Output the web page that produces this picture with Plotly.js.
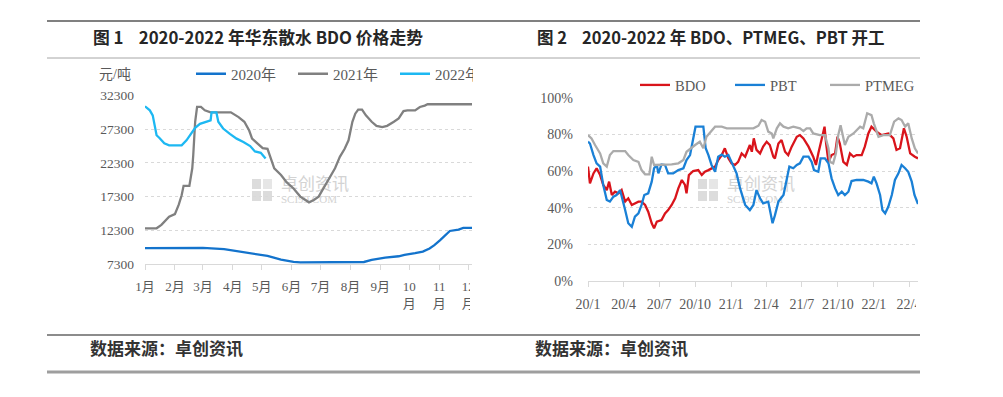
<!DOCTYPE html>
<html><head><meta charset="utf-8">
<script src="https://cdn.plot.ly/plotly-3.0.1.min.js"></script>
<style>
html,body{margin:0;padding:0;background:#fff;}
#wrap{position:relative;width:1003px;height:397px;overflow:hidden;}
#chart{width:1003px;height:397px;}
.mask{position:absolute;background:#fff;}
</style></head><body>
<div id="wrap">
<div id="chart"></div>
<div class="mask" style="left:473px;top:62px;width:45px;height:268px;"></div>
<div class="mask" style="left:470px;top:272px;width:48px;height:58px;"></div>
<div class="mask" style="left:919px;top:62px;width:84px;height:268px;"></div>
<div class="mask" style="left:916px;top:288px;width:87px;height:40px;"></div>
</div>
<script>
// ---------- Figure 1 data (month-day of each year, 元/吨) ----------
const refYear = '2020-';
const monthTicks = ['01-01','02-01','03-01','04-01','05-01','06-01','07-01','08-01','09-01','10-01','11-01','12-01'];
const monthLabels = ['1月','2月','3月','4月','5月','6月','7月','8月','9月','10<br>月','11<br>月','12<br>月'];

const d2020 = ['01-01','02-01','03-01','03-23','04-09','04-23','05-07','05-21','06-03','06-10','08-15','08-23','09-06','09-20','09-26','10-07','10-15','10-22','10-27','11-02','11-07','11-12','11-21','11-26','12-06'];
const v2020 = [9650,9700,9700,9500,9150,8750,8500,7950,7600,7550,7600,7900,8250,8450,8650,8900,9150,9600,10100,10850,11600,12200,12400,12650,12650];

const d2021 = ['01-01','01-13','01-18','01-21','01-26','02-01','02-05','02-08','02-10','02-16','02-19','02-20','02-22','02-24','02-28','03-03','03-09','03-30','04-04','04-07','04-13','04-18','04-21','04-26','05-02','05-07','05-10','05-14','05-21','05-27','06-03','06-10','06-19','06-24','06-29','07-04','07-09','07-16','07-21','07-26','07-30','08-03','08-06','08-09','08-13','08-17','08-23','08-28','09-03','09-08','09-15','09-20','09-25','09-29','10-07','10-12','10-17','10-20','12-06'];
const v2021 = [12600,12600,13100,13600,14300,14700,16100,17500,18900,18900,21500,23400,28400,30600,30600,30100,29800,29800,29350,29100,28400,27100,25900,25200,24500,24400,23200,21500,20500,19400,18500,17300,16450,16800,17300,18500,19750,21500,23200,24400,25650,28400,29600,30200,30200,29350,28400,27800,27600,27800,28400,28900,30000,30100,30100,30600,30800,31000,31000];

const d2022 = ['01-01','01-06','01-09','01-13','01-16','01-21','01-26','02-08','02-13','02-17','02-22','02-27','03-05','03-09','03-10','03-15','03-17','03-22','03-29','04-05','04-12','04-19','04-24','04-30','05-05'];
const v2022 = [30700,30100,29350,26400,26000,25200,24900,24900,25650,26400,27500,28100,28400,28600,29800,29800,28400,27400,26600,25900,25400,24800,24000,23800,22950];

// ---------- Figure 2 data (operating rate, %) ----------
const dBDO = ['2020-01-01','2020-01-06','2020-01-15','2020-01-23','2020-02-01','2020-02-09','2020-02-18','2020-02-24','2020-03-02','2020-03-10','2020-03-19','2020-03-27','2020-04-05','2020-04-13','2020-04-22','2020-04-30','2020-05-09','2020-05-17','2020-05-26','2020-06-03','2020-06-12','2020-06-18','2020-06-25','2020-07-07','2020-07-16','2020-07-24','2020-08-02','2020-08-11','2020-08-19','2020-08-28','2020-09-05','2020-09-09','2020-09-15','2020-09-26','2020-10-09','2020-10-18','2020-10-26','2020-11-04','2020-11-12','2020-11-21','2020-11-29','2020-12-08','2020-12-16','2020-12-25','2021-01-02','2021-01-11','2021-01-19','2021-01-28','2021-02-06','2021-02-14','2021-02-18','2021-02-23','2021-02-28','2021-03-07','2021-03-16','2021-03-24','2021-04-02','2021-04-10','2021-04-19','2021-04-23','2021-05-02','2021-05-10','2021-05-19','2021-05-27','2021-06-05','2021-06-18','2021-06-26','2021-07-05','2021-07-18','2021-07-30','2021-08-06','2021-08-12','2021-08-21','2021-08-28','2021-09-01','2021-09-07','2021-09-15','2021-09-24','2021-09-30','2021-10-06','2021-10-15','2021-10-24','2021-11-01','2021-11-10','2021-11-18','2021-12-01','2021-12-09','2021-12-18','2021-12-26','2022-01-08','2022-01-21','2022-02-07','2022-02-20','2022-02-28','2022-03-09','2022-03-19','2022-03-26','2022-04-04','2022-04-16','2022-04-24'];
const vBDO = [62.4,53.3,58.7,61.5,57.8,52.4,49.6,54.2,46.9,48.7,47.8,49.6,43.3,45.1,41.5,42.4,43.3,43.3,41.5,37.8,31.5,28.7,32.4,33.3,36.9,38.7,41.5,45.1,50.5,55.1,52.4,47.8,57.8,60,60.5,57.8,59.6,60.5,61.5,62.4,66,68.7,72.4,66.9,64.2,63.3,65,69.6,67.8,72.4,74.2,70.5,77.8,71.5,69.6,73.3,76,74.2,67.8,66.9,75,76.9,70.5,68.7,73.3,78.7,79.6,77.8,73.3,67.8,63.3,69.6,78.7,84.2,75,65,68.7,69.6,78.7,75,65,63.3,69.6,67.8,68.7,68.7,73.3,80.5,84.2,81.5,79.6,80.5,77.8,71.5,72.4,83.3,78.7,69.6,67.8,66.9];

const dPBT = ['2020-01-01','2020-01-06','2020-01-15','2020-01-23','2020-02-01','2020-02-09','2020-02-18','2020-02-26','2020-03-06','2020-03-14','2020-03-23','2020-03-29','2020-04-05','2020-04-13','2020-04-22','2020-04-30','2020-05-09','2020-05-17','2020-05-24','2020-06-03','2020-06-12','2020-06-18','2020-06-25','2020-06-29','2020-07-07','2020-07-16','2020-07-24','2020-08-06','2020-08-19','2020-09-01','2020-09-09','2020-09-18','2020-09-26','2020-10-02','2020-10-22','2020-10-28','2020-11-04','2020-11-12','2020-11-21','2020-11-29','2020-12-08','2020-12-16','2020-12-25','2021-01-02','2021-01-15','2021-01-24','2021-02-06','2021-02-18','2021-02-27','2021-03-07','2021-03-16','2021-03-24','2021-04-06','2021-04-12','2021-04-17','2021-04-23','2021-05-02','2021-05-15','2021-05-23','2021-05-30','2021-06-09','2021-06-18','2021-06-26','2021-07-05','2021-07-18','2021-07-26','2021-08-01','2021-08-12','2021-08-18','2021-08-29','2021-09-07','2021-09-15','2021-09-24','2021-10-02','2021-10-11','2021-10-19','2021-10-28','2021-11-05','2021-11-18','2021-12-05','2021-12-18','2021-12-26','2022-01-01','2022-01-08','2022-01-17','2022-01-23','2022-01-30','2022-02-07','2022-02-16','2022-02-24','2022-03-05','2022-03-13','2022-03-22','2022-03-30','2022-04-08','2022-04-15','2022-04-24'];
const vPBT = [76,75,68.7,64.2,62.4,52.4,44.2,43.3,46,46.9,49.6,45.1,38.7,31.5,29.6,35.1,36.9,41.5,46.9,47.8,54.2,61.5,63.3,58.7,63.6,63.3,58.7,58.7,60.5,61.5,66,68.7,78.7,84.2,84.2,72.4,68.7,63.3,59.6,67.8,69,67.8,68.7,65,58.7,50.5,41.5,38.7,41.5,49.6,45.1,42.4,43.3,36.9,31.5,35.8,43.3,46.9,56,62.4,61.5,63.3,64.2,67.8,67.8,65,60.5,59.6,66.9,66.9,64.2,56,50.5,46.9,48.7,46.9,48.7,54.5,55.1,55.1,54.2,53.3,56.9,53.3,46.9,38.7,36.9,40.5,46.9,55.1,58.7,63.3,61.5,59.6,54.2,46.9,42];

const dPTMEG = ['2020-01-01','2020-01-10','2020-01-19','2020-02-01','2020-02-09','2020-02-18','2020-02-26','2020-03-06','2020-04-05','2020-04-13','2020-04-26','2020-05-09','2020-05-17','2020-05-26','2020-06-06','2020-06-12','2020-06-18','2020-07-07','2020-08-02','2020-08-19','2020-09-01','2020-09-09','2020-09-22','2020-10-01','2020-10-13','2020-10-22','2020-10-30','2020-11-08','2020-11-21','2020-12-08','2020-12-21','2021-01-02','2021-01-28','2021-02-14','2021-02-27','2021-03-12','2021-03-20','2021-03-29','2021-04-06','2021-04-15','2021-04-19','2021-04-28','2021-05-06','2021-05-15','2021-05-27','2021-06-09','2021-06-26','2021-07-05','2021-07-13','2021-07-22','2021-07-30','2021-08-16','2021-08-29','2021-09-07','2021-09-11','2021-09-19','2021-09-26','2021-10-02','2021-10-08','2021-10-19','2021-10-28','2021-11-10','2021-11-18','2021-11-27','2021-12-05','2021-12-15','2021-12-26','2022-01-01','2022-01-13','2022-01-25','2022-02-11','2022-02-22','2022-03-05','2022-03-13','2022-03-22','2022-03-30','2022-04-08','2022-04-16','2022-04-24'];
const vPTMEG = [79.6,77.8,74.2,69.6,64.2,62.4,68.7,70.9,70.9,68.7,66,65,60.5,58.2,58.2,67.8,63.3,63.3,63.6,64.2,66,70.5,72.4,74.2,76,72.4,78.7,81,84.2,84.2,83.3,83.3,83.3,83.3,83.3,84.7,87.8,86.9,81.5,80.5,77.8,83.3,86,84.2,83.3,84.2,83.3,81.8,83.3,83.3,80.5,79.6,79.6,72.4,65,64.2,69.6,79.6,85,74.2,78.7,80.5,82.4,84.2,83.3,91.5,90.5,86,78.7,79.6,79.6,86.9,88.7,87.8,84.2,86,77.8,72.4,69.6];

// ---------- layout helpers ----------
const W = 1003, H = 397;
const px = x => x / W, py = y => 1 - y / H;
const SERIF = 'Liberation Serif, Noto Sans CJK SC, serif';
const SANS = 'Noto Sans CJK SC, sans-serif';
const TICK = '#595959';
const GRID = '#D9D9D9';
const withYear = arr => arr.map(d => refYear + d);

const traces = [
  {x: withYear(d2020), y: v2020, name: '2020年', type: 'scatter', mode: 'lines', line: {color: '#1373CC', width: 2.3}, xaxis: 'x', yaxis: 'y', legend: 'legend'},
  {x: withYear(d2021), y: v2021, name: '2021年', type: 'scatter', mode: 'lines', line: {color: '#808080', width: 2.3}, xaxis: 'x', yaxis: 'y', legend: 'legend'},
  {x: withYear(d2022), y: v2022, name: '2022年', type: 'scatter', mode: 'lines', line: {color: '#1DB8F2', width: 2.3}, xaxis: 'x', yaxis: 'y', legend: 'legend'},
  {x: dBDO, y: vBDO, name: 'BDO', type: 'scatter', mode: 'lines', line: {color: '#D9141B', width: 2.3}, xaxis: 'x2', yaxis: 'y2', legend: 'legend2'},
  {x: dPBT, y: vPBT, name: 'PBT', type: 'scatter', mode: 'lines', line: {color: '#1A80D6', width: 2.3}, xaxis: 'x2', yaxis: 'y2', legend: 'legend2'},
  {x: dPTMEG, y: vPTMEG, name: 'PTMEG', type: 'scatter', mode: 'lines', line: {color: '#ABABAB', width: 2.3}, xaxis: 'x2', yaxis: 'y2', legend: 'legend2'}
];

function hline(y, x0, x1, w, c) {
  return {type: 'line', xref: 'paper', yref: 'paper', x0: px(x0), x1: px(x1), y0: py(y), y1: py(y), line: {color: c, width: w}};
}
function box(x0, y0, x1, y1, c) {
  return {type: 'rect', xref: 'paper', yref: 'paper', layer: 'below', x0: px(x0), x1: px(x1), y0: py(y1), y1: py(y0), fillcolor: c, line: {width: 0}};
}
function mark(x0, x1, y0, y1, text, size) {
  return {type: 'rect', xref: 'paper', yref: 'paper', layer: 'below', x0: px(x0), x1: px(x1), y0: py(y1), y1: py(y0),
    fillcolor: 'rgba(0,0,0,0)', line: {width: 0},
    label: {text: text, textposition: 'middle left', font: {family: size > 12 ? SANS : SERIF, size: size, color: '#D3D3D3'}}};
}

const shapes = [
  hline(21, 47, 920, 2, '#808080'),
  hline(58, 47, 920, 1, '#A6A6A6'),
  hline(335, 47, 920, 2, '#8C8C8C'),
  hline(372, 47, 920, 3, '#9E9E9E'),
  // watermarks
  box(252, 179, 261, 189, '#DCDCDC'), box(263, 179, 272, 189, '#E6E6E6'),
  box(252, 191, 261, 201, '#DCDCDC'), box(263, 191, 272, 201, '#DCDCDC'),
  mark(275, 350, 178, 193, '卓创资讯', 17), mark(275, 350, 193, 202, 'SCI99.COM', 11),
  box(698, 179, 707, 189, '#DCDCDC'), box(709, 179, 718, 189, '#E6E6E6'),
  box(698, 191, 707, 201, '#DCDCDC'), box(709, 191, 718, 201, '#DCDCDC'),
  mark(721, 796, 178, 193, '卓创资讯', 17), mark(721, 796, 193, 202, 'SCI99.COM', 11)
];

const ann = (x, y, text, font, xanchor) => ({xref: 'paper', yref: 'paper', x: px(x), y: py(y), text: text, showarrow: false, xanchor: xanchor || 'left', yanchor: 'middle', font: font});
const titleFont = {family: SANS, size: 16.8, color: '#262626', weight: 'bold'};
const footFont = {family: SANS, size: 17, color: '#333333', weight: 'bold'};

const annotations = [
  ann(91, 37, '图 1    2020-2022 年华东散水 BDO 价格走势', titleFont),
  ann(535, 37, '图 2    2020-2022 年 BDO、PTMEG、PBT 开工', {family: SANS, size: 16.5, color: '#262626', weight: 'bold'}),
  ann(88, 347, '数据来源：卓创资讯', footFont),
  ann(533, 347, '数据来源：卓创资讯', footFont),
  ann(133, 74, '元/吨', {family: SERIF, size: 14, color: TICK}, 'right')
];

const layout = {
  width: W, height: H,
  margin: {l: 0, r: 0, t: 0, b: 0},
  paper_bgcolor: '#ffffff', plot_bgcolor: 'rgba(0,0,0,0)',
  font: {family: SERIF, color: TICK, size: 13},
  showlegend: true,
  hovermode: false,
  xaxis: {
    type: 'date', domain: [px(145), px(472)],
    range: [refYear + '01-01', refYear + '12-05'],
    tickmode: 'array', tickvals: withYear(monthTicks), ticktext: monthLabels,
    ticks: 'outside', ticklen: 5, tickcolor: GRID, tickwidth: 1,
    showline: true, linecolor: GRID, linewidth: 1,
    showgrid: false, zeroline: false, tickangle: 0,
    tickfont: {family: SERIF, size: 13, color: TICK}, ticklabelstandoff: 5,
    anchor: 'y'
  },
  yaxis: {
    domain: [py(264), py(95.5)], range: [7300, 32300],
    tickmode: 'linear', tick0: 7300, dtick: 5000, tickformat: 'd',
    showgrid: true, gridcolor: GRID, griddash: 'dot', gridwidth: 1,
    zeroline: false, showline: false, ticks: '',
    tickfont: {family: SERIF, size: 13.5, color: TICK}, ticklabelstandoff: 10,
    anchor: 'x'
  },
  xaxis2: {
    type: 'date', domain: [px(588), px(918)],
    range: ['2020-01-01', '2022-04-24'],
    tickmode: 'linear', tick0: '2020-01-01', dtick: 'M3', tickformat: '%y/%-m',
    ticks: 'outside', ticklen: 5, tickcolor: GRID, tickwidth: 1,
    showline: true, linecolor: GRID, linewidth: 1,
    showgrid: false, zeroline: false, tickangle: 0,
    tickfont: {family: SERIF, size: 14, color: TICK}, ticklabelstandoff: 5,
    anchor: 'y2'
  },
  yaxis2: {
    domain: [py(281), py(97.7)], range: [0, 100],
    tickmode: 'linear', tick0: 0, dtick: 20, ticksuffix: '%',
    showgrid: true, gridcolor: GRID, griddash: 'dot', gridwidth: 1,
    zeroline: false, showline: false, ticks: '',
    tickfont: {family: SERIF, size: 14, color: TICK}, ticklabelstandoff: 14,
    anchor: 'x2'
  },
  legend: {
    orientation: 'h', x: px(191), xanchor: 'left', y: py(74), yanchor: 'middle',
    font: {family: SERIF, size: 15, color: TICK}, bgcolor: 'rgba(0,0,0,0)',
    entrywidth: 57, entrywidthmode: 'pixels', itemwidth: 30
  },
  legend2: {
    orientation: 'h', x: px(635), xanchor: 'left', y: py(85), yanchor: 'middle',
    font: {family: SERIF, size: 14.5, color: TICK}, bgcolor: 'rgba(0,0,0,0)',
    entrywidth: 50, entrywidthmode: 'pixels', itemwidth: 30
  },
  shapes: shapes,
  annotations: annotations
};

Plotly.newPlot('chart', traces, layout, {displayModeBar: false, staticPlot: true});
</script>
</body></html>
